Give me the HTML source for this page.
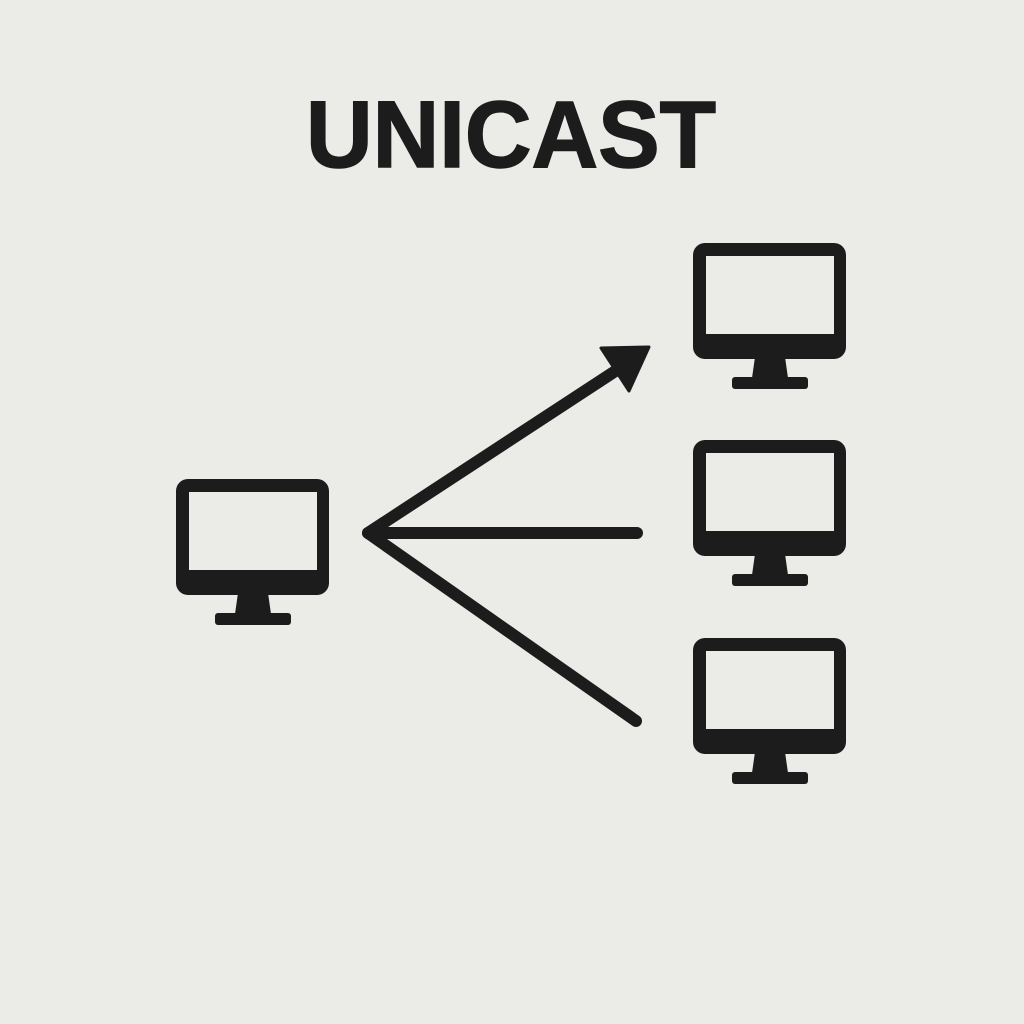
<!DOCTYPE html>
<html><head><meta charset="utf-8"><style>
html,body{margin:0;padding:0;background:#ebebe7;}
svg{display:block;}
</style></head><body>
<svg width="1024" height="1024" viewBox="0 0 1024 1024" xmlns="http://www.w3.org/2000/svg">
<defs>
<g id="mon">
  <path fill="#1c1c1c" fill-rule="evenodd" d="M12 0H141A12 12 0 0 1 153 12V104A12 12 0 0 1 141 116H12A12 12 0 0 1 0 104V12A12 12 0 0 1 12 0Z M13 13V91H141V13Z"/>
  <path fill="#1c1c1c" d="M62 114H92L95 135H59Z"/>
  <rect x="39" y="134" width="76" height="12" rx="3" fill="#1c1c1c"/>
</g>
</defs>
<rect width="1024" height="1024" fill="#ebebe7"/>
<text x="306" y="167" textLength="410" lengthAdjust="spacingAndGlyphs" font-family="Liberation Sans, sans-serif" font-weight="bold" font-size="95" fill="#1c1c1c" stroke="#1c1c1c" stroke-width="1.5">UNICAST</text>
<use href="#mon" x="176" y="479"/>
<use href="#mon" x="693" y="243"/>
<use href="#mon" x="693" y="440"/>
<use href="#mon" x="693" y="638"/>
<g stroke="#1c1c1c" stroke-width="12" stroke-linecap="round" stroke-linejoin="round" fill="none">
  <polyline points="620,368 368,533 636,721"/>
  <line x1="368" y1="533" x2="637" y2="533"/>
</g>
<polygon points="601,348 649,347 629,391" fill="#1c1c1c" stroke="#1c1c1c" stroke-width="3" stroke-linejoin="round"/>
</svg>
</body></html>
